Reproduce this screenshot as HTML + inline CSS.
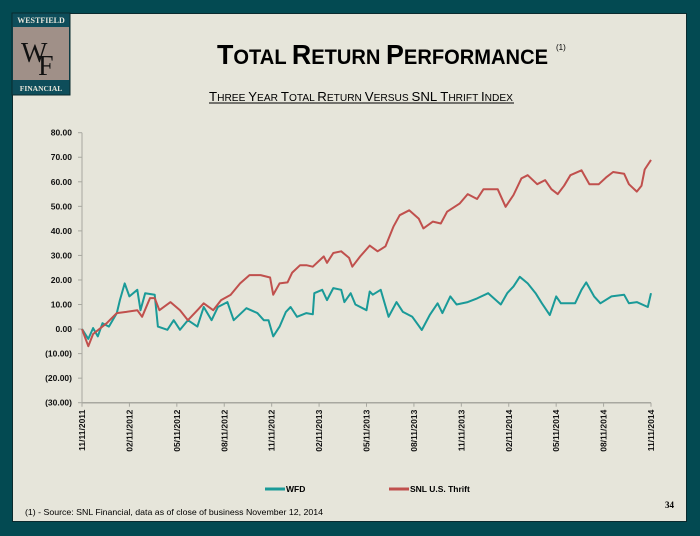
<!DOCTYPE html>
<html><head><meta charset="utf-8"><style>
body{margin:0;width:700px;height:536px;background:#034a52;overflow:hidden;font-family:"Liberation Sans",sans-serif;}
#panel{position:absolute;left:12px;top:13px;width:675px;height:509px;background:#e6e5da;border:1px solid #0a2a2e;box-sizing:border-box;}
svg{position:absolute;left:0;top:0;}
</style></head><body>
<div id="panel"></div>
<svg width="700" height="536">
 <g>
  <rect x="12" y="13" width="58" height="82" fill="#0e4d5a" stroke="#0a2a2e"/>
  <rect x="13" y="27" width="56" height="53" fill="#a09088"/>
  <text x="41" y="23" font-family="Liberation Serif,serif" font-size="8" font-weight="bold" fill="#e6e5da" text-anchor="middle">WESTFIELD</text>
  <text x="41" y="91" font-family="Liberation Serif,serif" font-size="7.5" font-weight="bold" fill="#e6e5da" text-anchor="middle">FINANCIAL</text>
  <text x="21" y="62" font-family="Liberation Serif,serif" font-size="28" fill="#111">W</text>
  <text x="38" y="75" font-family="Liberation Serif,serif" font-size="28" fill="#111">F</text>
 </g>
 <text x="217" y="64" textLength="331" lengthAdjust="spacingAndGlyphs" font-family="Liberation Sans,sans-serif" font-weight="bold" fill="#000"><tspan font-size="28">T</tspan><tspan font-size="21">OTAL </tspan><tspan font-size="28">R</tspan><tspan font-size="21">ETURN </tspan><tspan font-size="28">P</tspan><tspan font-size="21">ERFORMANCE</tspan></text>
 <text x="556" y="50" font-size="8" fill="#000">(1)</text>
 <text x="209" y="101" textLength="304" lengthAdjust="spacingAndGlyphs" fill="#000"><tspan font-size="13">T</tspan><tspan font-size="10">HREE </tspan><tspan font-size="13">Y</tspan><tspan font-size="10">EAR </tspan><tspan font-size="13">T</tspan><tspan font-size="10">OTAL </tspan><tspan font-size="13">R</tspan><tspan font-size="10">ETURN </tspan><tspan font-size="13">V</tspan><tspan font-size="10">ERSUS </tspan><tspan font-size="13">SNL T</tspan><tspan font-size="10">HRIFT </tspan><tspan font-size="13">I</tspan><tspan font-size="10">NDEX</tspan></text>
 <line x1="209" y1="103" x2="514" y2="103" stroke="#000" stroke-width="1"/>
 <g id="chart"></g>
 <g>
  <line x1="265" y1="489" x2="285" y2="489" stroke="#1a9a98" stroke-width="3"/>
  <text x="286" y="492" font-size="8.5" font-weight="bold">WFD</text>
  <line x1="389" y1="489" x2="409" y2="489" stroke="#c0504d" stroke-width="3"/>
  <text x="410" y="492" font-size="8.5" font-weight="bold">SNL U.S. Thrift</text>
 </g>
 <text x="25" y="515" textLength="298" lengthAdjust="spacingAndGlyphs" font-size="8.5" fill="#000">(1) -  Source:  SNL Financial, data as of close of business November 12, 2014</text>
 <text x="665" y="508" font-family="Liberation Serif,serif" font-size="9" font-weight="bold">34</text>
</svg>
<script>
const xLabels=["11/11/2011","02/11/2012","05/11/2012","08/11/2012","11/11/2012","02/11/2013","05/11/2013","08/11/2013","11/11/2013","02/11/2014","05/11/2014","08/11/2014","11/11/2014"];
const yTicks=[80,70,60,50,40,30,20,10,0,-10,-20,-30];
const snlMonths=[0,0.4,0.7,1.56,2.2,2.8,3.5,3.8,4.3,4.6,4.9,5.6,6.2,6.7,7.3,7.7,8.3,8.8,9.4,10,10.6,11.3,11.9,12.1,12.5,13,13.3,13.8,14.2,14.6,15.3,15.5,15.9,16.4,16.9,17.1,17.6,18.2,18.7,19.2,19.7,20.1,20.7,21.3,21.6,22.2,22.7,23.1,23.9,24.4,25,25.4,26.3,26.8,27.3,27.8,28.2,28.8,29.3,29.7,30.1,30.5,30.9,31.6,32.1,32.7,33.2,33.6,34.3,34.6,35.1,35.4,35.6,36];
const snlValues=[0,-7,-2,2.4,6.5,7,7.7,5,12.6,12.6,7.7,11,7.7,3.6,7.7,10.5,7.7,11.8,13.9,18.6,22,22,21,14,18.6,19,23,26,26,25.4,29.6,27,31,31.7,29,25.4,29.6,34,31.7,33.7,41.7,46.4,48.4,45,41,43.8,43,47.8,51.2,55,53,57,57,49.8,54.6,61.4,62.7,59,60.7,57,55,58.4,62.7,64.7,59,59,62,64,63.3,59,56,58.4,65,68.9];
const wfdMonths=[0,0.4,0.7,1.0,1.3,1.7,2.2,2.4,2.7,3.0,3.5,3.7,4.0,4.6,4.8,5.4,5.8,6.2,6.7,7.3,7.7,8.2,8.6,9.2,9.6,10.4,11.1,11.5,11.8,12.1,12.5,12.9,13.2,13.6,14.2,14.6,14.7,15.2,15.5,15.9,16.4,16.6,17.0,17.3,18.0,18.2,18.4,18.9,19.4,19.9,20.3,20.9,21.5,22.0,22.5,22.8,23.3,23.7,24.4,25,25.7,26.5,26.9,27.3,27.7,28.2,28.7,29.1,29.6,30.0,30.3,31.2,31.6,31.9,32.4,32.8,33.5,34.3,34.6,35.1,35.8,36];
const wfdValues=[0,-4,0.4,-3,2.4,1,6.5,11.8,18.6,13.3,16,7.7,14.6,14,1,-0.3,3.6,-0.3,3.6,1,9,3.6,9,11,3.6,8.5,6.5,3.6,3.6,-3,1,7,9,5,6.5,6,14.6,16,11.8,16.7,16,11,14.6,10,7.7,15.3,14,16,5,11,7,5,-0.4,5.7,10.5,6.5,13.3,10,11,12.5,14.6,10,14.6,17.4,21.3,18.6,14.6,10.5,5.7,13.3,10.5,10.5,16,19,13.3,10.5,13.3,14,10.5,11,9,14.6];
const NS="http://www.w3.org/2000/svg";
const g=document.getElementById('chart');
const X0=82,X1=651,Y0=132.7,Y1=402.7,MAXM=36;
function xs(m){return X0+(X1-X0)*m/MAXM;}
function ys(v){return Y0+(80-v)*(Y1-Y0)/110;}
function mk(t,a){const e=document.createElementNS(NS,t);for(const k in a)e.setAttribute(k,a[k]);g.appendChild(e);return e;}
let ax=mk('line',{x1:X0,y1:Y0,x2:X0,y2:Y1,stroke:'#a8a8a0','stroke-width':1});


let bx=mk('line',{x1:X0,y1:Y1,x2:X1,y2:Y1,stroke:'#a8a8a0','stroke-width':1.5});


yTicks.forEach(v=>{
 mk('line',{x1:X0-4,y1:ys(v),x2:X0,y2:ys(v),stroke:'#a8a8a0'});
 const t=mk('text',{x:X0-10,y:ys(v)+3,'text-anchor':'end','font-size':8.5,'font-weight':'bold',fill:'#111'});
 t.textContent=v<0?'('+Math.abs(v).toFixed(2)+')':v.toFixed(2);
 
 
});
xLabels.forEach((l,i)=>{
 const x=xs(i*3);
 mk('line',{x1:x,y1:Y1,x2:x,y2:Y1+4,stroke:'#a8a8a0'});
 const t=mk('text',{x:0,y:0,'text-anchor':'end','font-size':8.5,'font-weight':'bold',fill:'#111',transform:`translate(${x+3},${Y1+7}) rotate(-90)`});
 t.textContent=l;
 
 
});
function line(ms,vs,c,name){
 const d=ms.map((m,i)=>(i?'L':'M')+xs(m).toFixed(1)+','+ys(vs[i]).toFixed(1)).join('');
 const p=mk('path',{d:d,fill:'none',stroke:c,'stroke-width':2,'stroke-linejoin':'round'});
 
 
}
line(wfdMonths,wfdValues,'#1a9a98','wfd-line');
line(snlMonths,snlValues,'#c0504d','snl-thrift-line');
</script>
</body></html>
